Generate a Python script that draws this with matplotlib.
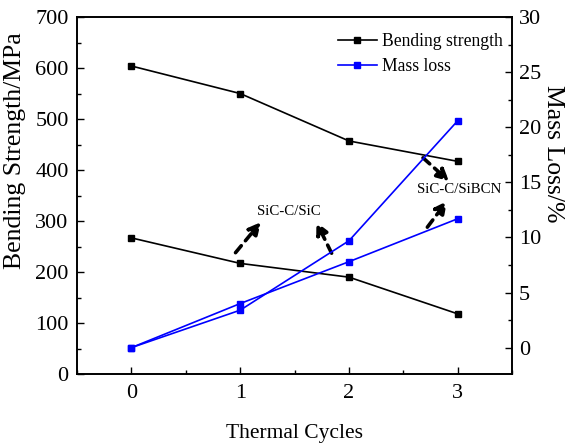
import matplotlib
matplotlib.use("Agg")
import matplotlib.pyplot as plt
from matplotlib.ticker import MultipleLocator
from matplotlib.lines import Line2D

plt.rcParams['font.family'] = ['Liberation Serif', 'DejaVu Serif']
plt.rcParams['mathtext.fontset'] = 'stix'

cycles = [0, 1, 2, 3]
bend_sibcn = [604, 550, 457, 417]
bend_sic = [267, 217, 190, 118]
mass_sic = [0, 3.4, 9.7, 20.6]
mass_sibcn = [0, 4.0, 7.8, 11.7]

fig = plt.figure(figsize=(5.66, 4.48), dpi=100)
ax = fig.add_axes([0.136, 0.165, 0.769, 0.797])
ax2 = ax.twinx()

kw = dict(marker='s', markersize=5, linewidth=1.2)
ax.plot(cycles, bend_sibcn, color='black', **kw)
ax.plot(cycles, bend_sic, color='black', **kw)
ax2.plot(cycles, mass_sic, color='blue', **kw)
ax2.plot(cycles, mass_sibcn, color='blue', **kw)

ax.set_xlim(-0.5, 3.5)
ax.set_ylim(0, 700)
ax.set_xticks(cycles)
ax.xaxis.set_minor_locator(MultipleLocator(0.5))
ax.yaxis.set_major_locator(MultipleLocator(100))
ax.yaxis.set_minor_locator(MultipleLocator(50))
ax2.yaxis.set_major_locator(MultipleLocator(5))
ax2.yaxis.set_minor_locator(MultipleLocator(2.5))

for a in (ax, ax2):
    a.tick_params(which='major', direction='in', length=5, width=1, labelsize=16)
    a.tick_params(which='minor', direction='in', length=3, width=1)
    for s in a.spines.values():
        s.set_linewidth(1.2)
ax.tick_params(axis='x', pad=7)
ax.tick_params(axis='y', pad=6)
ax2.tick_params(axis='y', pad=5)
ax2.set_ylim(-2.4, 30)

ax.set_xlabel('Thermal Cycles', fontsize=15.5, labelpad=15)
ax.set_ylabel('Bending Strength/MPa', fontsize=18.5)
ax.yaxis.set_label_coords(-0.118, 0.627)
ax2.set_ylabel('Mass Loss/%', fontsize=18.5, rotation=270, va='bottom')
ax2.yaxis.set_label_coords(1.068, 0.616)

handles = [Line2D([], [], color='black', **kw), Line2D([], [], color='blue', **kw)]
ax.legend(handles, ['Bending strength', 'Mass loss'], loc='upper right',
          bbox_to_anchor=(1.015, 1.0), frameon=False, fontsize=12.7,
          handlelength=2.2, handletextpad=0.3, labelspacing=0.45)

ax.text(1.444, 318, 'SiC-C/SiC', ha='center', va='center', fontsize=10.7)
ax.text(3.01, 361, 'SiC-C/SiBCN', ha='center', va='center', fontsize=10.7)

arrows = [((0.957, 238), (1.19, 298)),
          ((1.84, 237), (1.70, 298)),
          ((2.68, 424), (2.92, 378)),
          ((2.72, 288), (2.90, 339))]
for start, end in arrows:
    ax.annotate('', xy=end, xytext=start,
                arrowprops=dict(arrowstyle='-|>,head_length=0.7,head_width=0.35',
                                linestyle=(0, (2.5, 1.8)), linewidth=2.6, color='black',
                                shrinkA=0, shrinkB=0))

fig.savefig('out.png', dpi=100)
